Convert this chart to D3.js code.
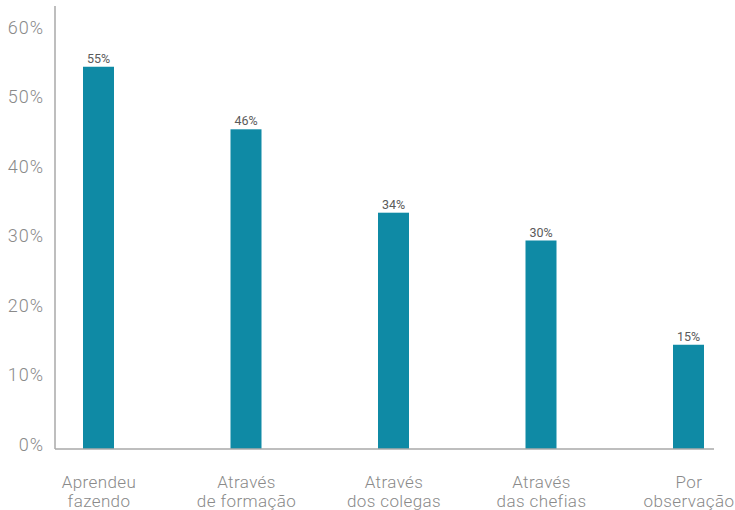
<!DOCTYPE html>
<html>
<head>
<meta charset="utf-8">
<script src="https://cdn.jsdelivr.net/npm/d3@7"></script>
<style>
  html, body { margin: 0; padding: 0; background: #fff; }
  svg { display: block; }
</style>
</head>
<body>
<svg id="chart" width="735" height="510"></svg>
<script>
// Data
const categories = [
  ["Aprendeu", "fazendo"],
  ["Através", "de formação"],
  ["Através", "dos colegas"],
  ["Através", "das chefias"],
  ["Por", "observação"]
];
const values = [55, 46, 34, 30, 15];
const yTicks = [0, 10, 20, 30, 40, 50, 60];

const svg = d3.select("#chart");
const font = "Roboto, 'Liberation Sans', Arial, sans-serif";

const axisX = 55, baseY = 449, endX = 714;
const keys = categories.map((c, i) => i);

const x = d3.scalePoint().domain(keys).range([98.5, 688.5]);
const y = d3.scaleLinear().domain([0, 60]).range([baseY, 32]);
const barW = 31;

// Y axis (labels only, custom line)
const yAxis = d3.axisLeft(y).tickValues(yTicks).tickSize(0).tickPadding(0)
  .tickFormat(d => d + "%");
const gy = svg.append("g").attr("transform", `translate(44,-4.5)`).call(yAxis);
gy.select(".domain").remove();
gy.selectAll("text")
  .attr("font-family", font)
  .attr("font-weight", 300)
  .attr("font-size", 18)
  .attr("letter-spacing", 1)
  .attr("fill", "#8a8a8a");

// Bars
svg.append("g").selectAll("rect")
  .data(values)
  .join("rect")
  .attr("x", (d, i) => x(i) - barW / 2)
  .attr("y", d => y(d))
  .attr("width", barW)
  .attr("height", d => baseY - y(d))
  .attr("fill", "#0f8aa5");

// Value labels
svg.append("g").selectAll("text")
  .data(values)
  .join("text")
  .attr("x", (d, i) => x(i))
  .attr("y", d => y(d) - 4)
  .attr("text-anchor", "middle")
  .attr("font-family", font)
  .attr("font-size", 12.5)
  .attr("fill", "#5a5a5a")
  .text(d => d + "%");

// Axis lines
svg.append("line")
  .attr("x1", axisX).attr("x2", axisX)
  .attr("y1", 6).attr("y2", baseY)
  .attr("stroke", "#a8a8a8").attr("stroke-width", 1.5);
svg.append("line")
  .attr("x1", axisX).attr("x2", endX)
  .attr("y1", baseY).attr("y2", baseY)
  .attr("stroke", "#a8a8a8").attr("stroke-width", 1.5);

// Category labels, two lines each
const xAxis = d3.axisBottom(x).tickSize(0).tickFormat("");
const gx = svg.append("g").attr("transform", `translate(0,${baseY})`).call(xAxis);
gx.select(".domain").remove();
gx.selectAll(".tick").each(function (d) {
  const tick = d3.select(this);
  categories[d].forEach((line, j) => {
    tick.append("text")
      .attr("x", 0)
      .attr("y", 39 + j * 19)
      .attr("text-anchor", "middle")
      .attr("font-family", font)
      .attr("font-weight", 300)
      .attr("font-size", 17)
      .attr("letter-spacing", 0.4)
      .attr("fill", "#8a8a8a")
      .text(line);
  });
});
</script>
</body>
</html>
